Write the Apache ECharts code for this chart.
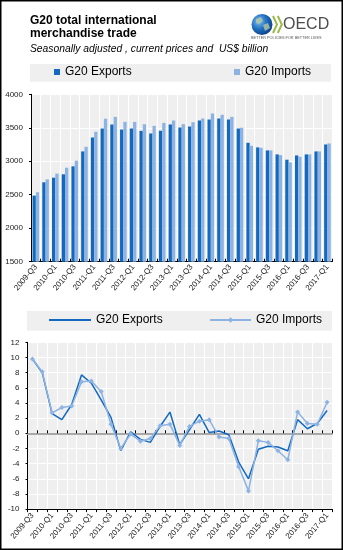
<!DOCTYPE html>
<html>
<head>
<meta charset="utf-8">
<script src="https://cdn.jsdelivr.net/npm/echarts@6/dist/echarts.min.js"></script>
<style>
  html, body { margin: 0; padding: 0; background: #fff; }
  #chart { width: 343px; height: 550px; }
</style>
</head>
<body>
<div id="chart"></div>
<script>
// Quarterly G20 merchandise trade, 2009-Q3 to 2017-Q1
const quarters = [
  '2009-Q3', '2009-Q4',
  '2010-Q1', '2010-Q2', '2010-Q3', '2010-Q4',
  '2011-Q1', '2011-Q2', '2011-Q3', '2011-Q4',
  '2012-Q1', '2012-Q2', '2012-Q3', '2012-Q4',
  '2013-Q1', '2013-Q2', '2013-Q3', '2013-Q4',
  '2014-Q1', '2014-Q2', '2014-Q3', '2014-Q4',
  '2015-Q1', '2015-Q2', '2015-Q3', '2015-Q4',
  '2016-Q1', '2016-Q2', '2016-Q3', '2016-Q4',
  '2017-Q1'
];

// Levels, US$ billion, seasonally adjusted
const exportsLevel = [
  2487, 2686, 2755, 2805, 2924, 3147, 3355, 3489, 3549, 3474,
  3489, 3454, 3415, 3454, 3549, 3504, 3519, 3608, 3623, 3638,
  3623, 3489, 3276, 3207, 3162, 3102, 3023, 3087, 3102, 3147,
  3251
];
const importsLevel = [
  2537, 2730, 2815, 2904, 3008, 3216, 3440, 3633, 3663, 3588,
  3588, 3554, 3529, 3573, 3608, 3554, 3583, 3638, 3712, 3693,
  3663, 3499, 3231, 3201, 3162, 3092, 2983, 3067, 3102, 3147,
  3266
];

// Quarter-on-quarter growth, %
const exportsGrowth = [
  9.8, 8.0, 2.6, 1.8, 3.8, 7.7, 6.6, 4.4, 2.1, -2.3,
  0.2, -0.8, -1.2, 0.9, 2.8, -1.5, 0.5, 2.5, 0.1, 0.3,
  -0.2, -3.8, -6.0, -2.1, -1.7, -1.8, -2.3, 1.8, 0.6, 1.3,
  3.0
];
const importsGrowth = [
  9.8, 8.1, 2.7, 3.4, 3.6, 6.8, 6.9, 5.5, 1.2, -2.0,
  -0.1, -1.05, -0.7, 1.0, 1.2, -1.6, 0.9, 1.6, 1.8, -0.5,
  -0.7, -4.4, -7.6, -1.0, -1.2, -2.3, -3.5, 2.8, 1.3, 1.2,
  4.1
];

const FONT = '"Liberation Sans", Arial, Helvetica, sans-serif';
const DARK = '#1369BF';
const LIGHT = '#8DB3E2';
const PANEL = '#EEEFEE';

const legendText = {
  'Exports level': 'G20 Exports',
  'Imports level': 'G20 Imports',
  'Exports growth': 'G20 Exports',
  'Imports growth': 'G20 Imports'
};
const fmtLegend = name => legendText[name];
const plainNumber = v => String(v);

const tickLabel = {
  fontFamily: FONT, fontSize: 8, color: '#222'
};

const chart = echarts.init(document.getElementById('chart'), null, { renderer: 'canvas' });

chart.setOption({
  animation: false,
  backgroundColor: '#fff',
  textStyle: { fontFamily: FONT },
  title: {
    text: 'G20 total international\nmerchandise trade',
    subtext: 'Seasonally adjusted , current prices and  US$ billion',
    left: 30, top: 14.5, padding: 0, itemGap: 3,
    textStyle: { fontFamily: FONT, fontSize: 12, fontWeight: 'bold', lineHeight: 13, color: '#000' },
    subtextStyle: { fontFamily: FONT, fontSize: 10.3, fontStyle: 'italic', color: '#000', lineHeight: 12 }
  },
  legend: [
    {
      data: [{ name: 'Exports level', icon: 'rect' }],
      formatter: fmtLegend, left: 54, top: 66, padding: 0,
      itemWidth: 6, itemHeight: 6, selectedMode: false,
      textStyle: { fontFamily: FONT, fontSize: 12, color: '#000' }
    },
    {
      data: [{ name: 'Imports level', icon: 'rect' }],
      formatter: fmtLegend, left: 234, top: 66, padding: 0,
      itemWidth: 6, itemHeight: 6, selectedMode: false,
      textStyle: { fontFamily: FONT, fontSize: 12, color: '#000' }
    },
    {
      data: [{ name: 'Exports growth', icon: 'rect' }],
      formatter: fmtLegend, left: 49, top: 314, padding: 0,
      itemWidth: 42, itemHeight: 2, selectedMode: false,
      textStyle: { fontFamily: FONT, fontSize: 12, color: '#000' }
    },
    {
      data: ['Imports growth'],
      formatter: fmtLegend, left: 209, top: 314, padding: 0,
      itemWidth: 41, itemHeight: 7, selectedMode: false,
      textStyle: { fontFamily: FONT, fontSize: 12, color: '#000' }
    }
  ],
  grid: [
    { left: 31, top: 94.3, width: 301.3, height: 167.4, show: true, backgroundColor: PANEL, borderWidth: 0 },
    { left: 27.5, top: 342.3, width: 304.5, height: 166.8, show: true, backgroundColor: PANEL, borderWidth: 0 }
  ],
  xAxis: [
    {
      gridIndex: 0, type: 'category', data: quarters, boundaryGap: true,
      axisLine: { lineStyle: { color: '#000', width: 1 } },
      axisTick: { show: true, inside: true, length: 3, interval: 0, lineStyle: { color: '#000' } },
      axisLabel: Object.assign({ interval: 1, rotate: 50, margin: 4 }, tickLabel),
      splitLine: { show: true, interval: 0, lineStyle: { color: '#fff', width: 1 } }
    },
    {
      gridIndex: 1, type: 'category', data: quarters, boundaryGap: true, position: 'bottom',
      axisLine: { onZero: false, lineStyle: { color: '#000', width: 1 } },
      axisTick: { show: true, length: 3, interval: 0, lineStyle: { color: '#000' } },
      axisLabel: Object.assign({ interval: 1, rotate: 50, margin: 5 }, tickLabel),
      splitLine: { show: true, interval: 0, lineStyle: { color: '#fff', width: 1 } }
    },
    {
      // zero line of the growth panel
      gridIndex: 1, type: 'category', data: quarters, boundaryGap: true, position: 'bottom',
      axisLine: { onZero: true, lineStyle: { color: '#A8A8A8', width: 2 } },
      axisTick: { show: true, inside: true, length: 3, interval: 0, lineStyle: { color: '#000' } },
      axisLabel: { show: false },
      splitLine: { show: false }
    }
  ],
  yAxis: [
    {
      gridIndex: 0, type: 'value', min: 1500, max: 4000, interval: 500,
      axisLine: { show: true, lineStyle: { color: '#000' } },
      axisTick: { show: true, length: 2, lineStyle: { color: '#000' } },
      axisLabel: Object.assign({ margin: 8, formatter: plainNumber }, tickLabel),
      splitLine: { show: true, lineStyle: { color: '#fff', width: 1 } }
    },
    {
      gridIndex: 1, type: 'value', min: -10, max: 12, interval: 2,
      axisLine: { show: true, lineStyle: { color: '#000' } },
      axisTick: { show: true, length: 2, lineStyle: { color: '#000' } },
      axisLabel: Object.assign({ margin: 8, formatter: plainNumber }, tickLabel),
      splitLine: { show: true, lineStyle: { color: '#fff', width: 1 } }
    }
  ],
  series: [
    {
      name: 'Exports level', type: 'bar', xAxisIndex: 0, yAxisIndex: 0,
      data: exportsLevel, barWidth: 3.3, barGap: '0%',
      itemStyle: { color: DARK }
    },
    {
      name: 'Imports level', type: 'bar', xAxisIndex: 0, yAxisIndex: 0,
      data: importsLevel, barWidth: 3.3, barGap: '0%',
      itemStyle: { color: LIGHT }
    },
    {
      name: 'Exports growth', type: 'line', xAxisIndex: 1, yAxisIndex: 1,
      data: exportsGrowth, symbol: 'none',
      lineStyle: { color: DARK, width: 1.5 }, itemStyle: { color: DARK }
    },
    {
      name: 'Imports growth', type: 'line', xAxisIndex: 1, yAxisIndex: 1,
      data: importsGrowth, symbol: 'diamond', symbolSize: 5, showSymbol: true,
      lineStyle: { color: LIGHT, width: 1.5 }, itemStyle: { color: LIGHT }
    }
  ],
  graphic: [
    // outer frame
    { type: 'rect', shape: { x: 0.75, y: 0.75, width: 341.5, height: 548.5 },
      style: { fill: 'none', stroke: '#000', lineWidth: 1.5 }, z: 10 },
    // legend panels
    { type: 'rect', shape: { x: 30, y: 64, width: 301, height: 17.7 },
      style: { fill: PANEL }, z: -1 },
    { type: 'rect', shape: { x: 27, y: 311, width: 305, height: 19.7 },
      style: { fill: PANEL }, z: -1 },
    // OECD logo
    { type: 'circle', shape: { cx: 262, cy: 24.5, r: 10.5 },
      style: {
        fill: new echarts.graphic.RadialGradient(0.35, 0.35, 0.75, [
          { offset: 0, color: '#7FC0F0' },
          { offset: 0.5, color: '#1F6FC0' },
          { offset: 1, color: '#0A3A80' }
        ])
      } },
    { type: 'polygon', shape: { points: [[256, 19], [261, 17], [263, 21], [259, 24], [256, 23]] },
      style: { fill: '#B9C7A6', opacity: 0.8 } },
    { type: 'polygon', shape: { points: [[263, 25], [268, 23], [270, 28], [265, 31]] },
      style: { fill: '#B9C7A6', opacity: 0.8 } },
    { type: 'polyline', shape: { points: [[273, 16], [277, 24.5], [273, 33]] },
      style: { stroke: '#9DB84B', lineWidth: 2, fill: 'none' } },
    { type: 'polyline', shape: { points: [[277.8, 16], [281.8, 24.5], [277.8, 33]] },
      style: { stroke: '#9DB84B', lineWidth: 2, fill: 'none' } },
    { type: 'text', x: 283, y: 24.5,
      style: { text: 'OECD', font: '16px ' + FONT, fill: '#4D4D4D', verticalAlign: 'middle' } },
    { type: 'text', x: 251, y: 37.8,
      style: { text: 'BETTER POLICIES FOR BETTER LIVES', font: '3.8px ' + FONT, fill: '#555', verticalAlign: 'middle' } }
  ]
});
</script>
</body>
</html>
